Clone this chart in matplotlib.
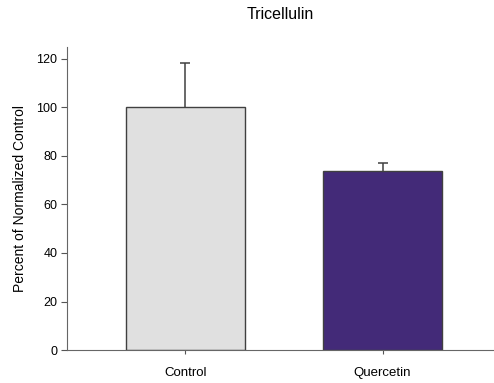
import matplotlib
matplotlib.use('Agg')
from matplotlib import pyplot as plt

groups = ['Control', 'Quercetin']
means = [100, 73.8]
errors = [18.3, 3.3]
colors = ['#e0e0e0', '#432a78']

plt.rcParams['font.family'] = ['Liberation Sans', 'DejaVu Sans']

fig = plt.figure(figsize=(4.94, 3.83), dpi=100)
ax = fig.add_axes([0.136, 0.086, 0.862, 0.792])

x = range(len(groups))
ax.bar(x, means, width=0.6, color=colors, edgecolor='#404040', linewidth=1.0, zorder=2)
eb = ax.errorbar(x, means, yerr=[[0, 0], errors], fmt='none', ecolor='#404040',
                 elinewidth=1.1, capsize=3.3, capthick=1.1, zorder=1)
# only the upper caps are shown
eb[1][0].set_visible(False)

ax.set_xlim(-0.6, 1.56)
ax.set_ylim(0, 125)
ax.set_yticks([0, 20, 40, 60, 80, 100, 120])
ax.set_xticks(list(x))
ax.set_xticklabels(groups, fontsize=9.5)
ax.tick_params(axis='y', labelsize=9, length=4, color='#555555', pad=3)
ax.tick_params(axis='x', length=3, color='#555555', pad=9)
ax.spines['top'].set_visible(False)
ax.spines['right'].set_visible(False)
ax.spines['left'].set_color('#666666')
ax.spines['bottom'].set_color('#666666')
ax.set_ylabel('Percent of Normalized Control', fontsize=10, labelpad=7)
ax.set_title('Tricellulin', fontsize=11.5, pad=20)

fig.savefig('out.png', dpi=100)
